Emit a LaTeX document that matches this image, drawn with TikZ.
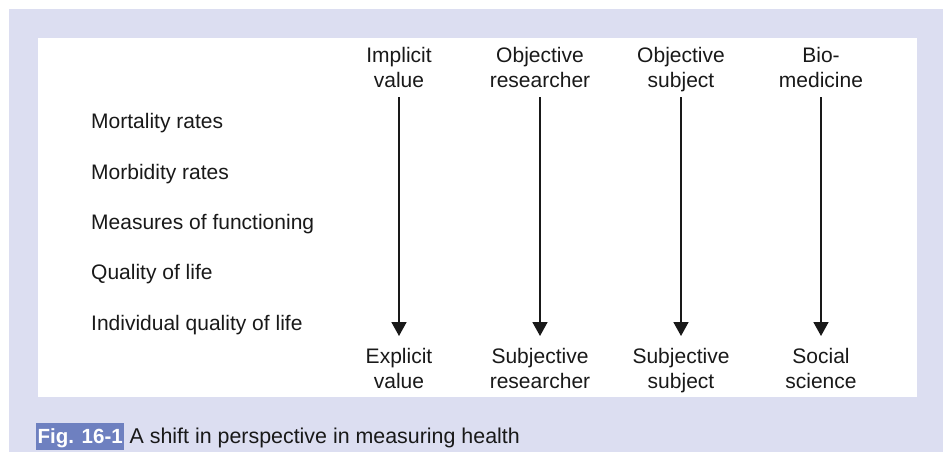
\documentclass[tikz,border=0pt]{standalone}
\usepackage{fontspec}
\setmainfont{Liberation Sans}
\usetikzlibrary{arrows.meta}
\definecolor{lav}{RGB}{220,222,241}
\definecolor{capblue}{RGB}{110,128,192}
\definecolor{ink}{RGB}{25,25,25}
\begin{document}
\begin{tikzpicture}[x=1pt,y=-1pt,
  lbl/.style={anchor=base west,inner sep=0pt,text=ink,font=\fontsize{21}{25}\selectfont},
  col/.style={anchor=base,inner sep=0pt,align=center,text=ink,font=\fontsize{21}{25}\selectfont},
  arr/.style={draw=ink,line width=1.7pt,-{Triangle[width=15pt,length=14pt]}}]
\useasboundingbox (0,0) rectangle (943,461);
\fill[lav] (9,9) rectangle (943,452);
\fill[white] (38,38) rectangle (917,397);
% row labels
\node[lbl] (r1) at (91,128) {Mortality rates};
\node[lbl] (r2) at (91,179) {Morbidity rates};
\node[lbl] (r3) at (91,229) {Measures of functioning};
\node[lbl] (r4) at (91,279) {Quality of life};
\node[lbl] (r5) at (91,330) {Individual quality of life};
% columns
\foreach \i/\x/\ta/\tb/\ba/\bb in {1/399/Implicit/value/Explicit/value,
  2/540/Objective/researcher/Subjective/researcher,
  3/681/Objective/subject/Subjective/subject,
  4/821/Bio-/medicine/Social/science}{
  \node[col] (t\i) at (\x,87) {\ta\\\tb};
  \node[col] (b\i) at (\x,388) {\ba\\\bb};
  \path (t\i.base) ++(0,10) coordinate (s\i);
  \path (b\i.base) ++(0,-52) coordinate (e\i);
  \draw[arr] (s\i) -- (e\i);
}
% caption
\node[anchor=base west,fill=capblue,text=white,inner xsep=1.5pt,inner ysep=0pt,
  text height=20pt,text depth=7pt,font=\fontsize{20.5}{25}\selectfont\bfseries] (fig) at (36,443) {Fig. 16-1};
\node[anchor=base west,inner sep=0pt,text=ink,font=\fontsize{21.4}{25}\selectfont] (cap) at ([xshift=5pt]fig.base east) {A shift in perspective in measuring health};
\end{tikzpicture}
\end{document}
